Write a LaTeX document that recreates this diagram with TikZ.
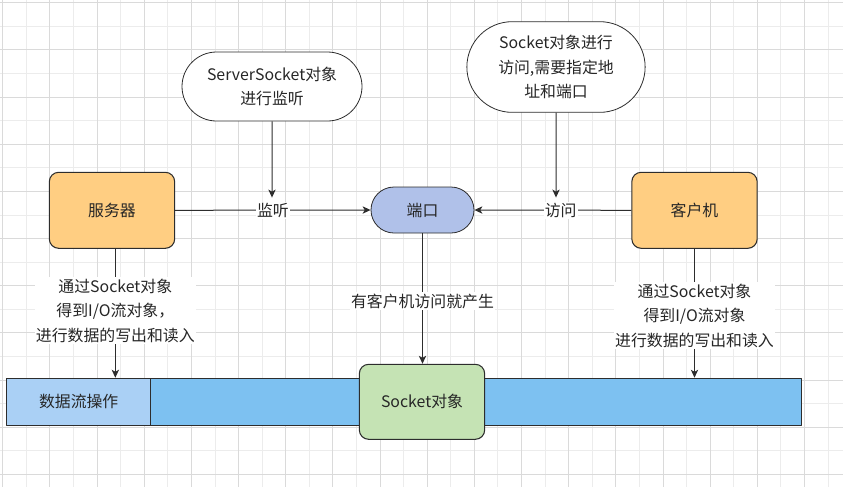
\documentclass[tikz,border=0pt]{standalone}
\usepackage{fontspec}
\setmainfont{Noto Sans CJK SC}
\usetikzlibrary{arrows.meta, calc, positioning, shapes.misc}

\definecolor{boxorange}{RGB}{255,206,130}
\definecolor{portblue}{RGB}{176,193,233}
\definecolor{sockgreen}{RGB}{197,227,180}
\definecolor{flowlight}{RGB}{170,208,245}
\definecolor{flowdark}{RGB}{125,193,241}
\definecolor{edgegray}{RGB}{45,45,45}
\definecolor{gridlight}{RGB}{236,236,236}
\definecolor{griddark}{RGB}{218,218,218}

\begin{document}
\begin{tikzpicture}[x=0.75pt, y=-0.75pt, line join=round,
    every node/.style={font=\fontsize{11.9}{18.5}\selectfont, text=black!85},
    box/.style={draw=edgegray, line width=0.8pt, rounded corners=7pt, minimum width=94pt, minimum height=57pt, inner sep=0pt},
    pill/.style={draw=edgegray, line width=0.6pt, rounded rectangle, align=center, inner sep=0pt},
    bar/.style={draw=edgegray, line width=0.9pt, minimum height=35.25pt, inner sep=0pt},
    tag/.style={fill=white, inner sep=1pt, outer sep=3pt, align=center},
    link/.style={draw=edgegray, line width=0.75pt, -{Stealth[length=6pt, width=5.5pt, inset=1.6pt]}},
    gridminor/.style={draw=gridlight, line width=0.6pt},
    gridmajor/.style={draw=griddark, line width=0.6pt}]

        \useasboundingbox (0,0) rectangle (843,487);

        % 背景网格
        \foreach \i in {0,...,35}
            \draw[gridminor] ({2.7+23.58*\i},0) -- ({2.7+23.58*\i},487);
        \foreach \j in {0,...,20}
            \draw[gridminor] (0,{2.7+23.58*\j}) -- (843,{2.7+23.58*\j});
        \foreach \i in {0,2,...,34}
            \draw[gridmajor] ({2.7+23.58*\i},0) -- ({2.7+23.58*\i},487);
        \foreach \j in {0,2,...,20}
            \draw[gridmajor] (0,{2.7+23.58*\j}) -- (843,{2.7+23.58*\j});

        % 底部数据流条
        \node[bar, fill=flowlight, minimum width=108pt] (flowL) at (78.7, 401.8) {数据流操作};
        \node[bar, fill=flowdark, minimum width=488pt, right=-0.9pt of flowL] (flowR) {};

        % 服务器, 客户机, 端口, Socket对象
        \node[box, fill=boxorange] (server) at (112, 210.3) {服务器};
        \node[box, fill=boxorange] (client) at (694.5, 210.3) {客户机};
        \node[pill, fill=portblue, minimum width=77.25pt, minimum height=34.5pt] (port) at (422.5, 210) {端口};
        \node[box, fill=sockgreen, minimum height=56.25pt] (sockobj) at (422, 401.8) {Socket对象};

        % 说明气泡
        \node[pill, fill=white, minimum width=135pt, minimum height=51.75pt] (ssock) at (272, 86.5)
            {ServerSocket对象\\进行监听};
        \node[pill, fill=white, minimum width=133.7pt, minimum height=68pt] (csock) at (556, 67)
            {Socket对象进行\\访问,需要指定地\\址和端口};

        % 监听 / 访问
        \draw[link] (server.east) -- node[tag, pos=0.5] (lblisten) {监听} (port.west);
        \draw[link] (client.west) -- node[tag, pos=0.45] (lbvisit) {访问} (port.east);
        \draw[link] (ssock) -- (ssock |- lblisten.north);
        \draw[link] (csock) -- (csock |- lbvisit.north);

        % 产生 Socket对象
        \draw[link] (port.south) -- node[tag, pos=0.52] (lbmake) {有客户机访问就产生} (port.south |- sockobj.north);

        % 读写数据
        \draw[link] ([xshift=2.5pt]server.south) -- node[tag, pos=0.48] (lbserver)
            {通过Socket对象\\得到I/O流对象，\\进行数据的写出和读入} ([xshift=2.5pt]server.south |- flowL.north);
        \draw[link] (client.south) -- node[tag, pos=0.52] (lbclient)
            {通过Socket对象\\得到I/O流对象\\进行数据的写出和读入} (client.south |- flowR.north);

    \end{tikzpicture}
\end{document}
